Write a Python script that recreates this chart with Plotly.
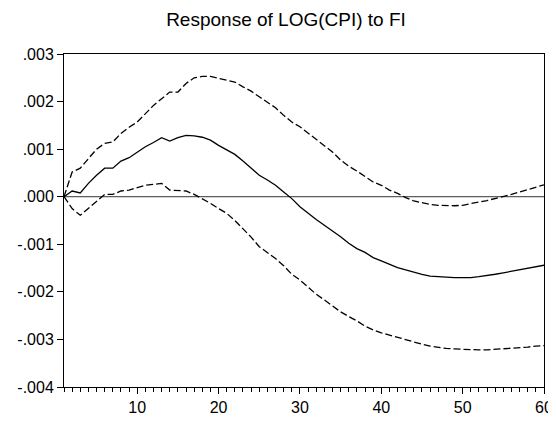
import plotly.graph_objects as go

periods = list(range(1, 61))

response = [0.0, 0.00012, 0.00008, 0.00028, 0.00045, 0.0006, 0.0006, 0.00075, 0.00082, 0.00093,
            0.00105, 0.00114, 0.00124, 0.00117, 0.00124, 0.00129, 0.00128, 0.00125, 0.00119, 0.00108,
            0.00098, 0.00089, 0.00075, 0.00059, 0.00045, 0.00035, 0.00024, 0.0001, -0.00004, -0.00021,
            -0.00035, -0.00048, -0.0006, -0.00072, -0.00084, -0.00098, -0.00109, -0.00117, -0.00128, -0.00135,
            -0.00142, -0.00149, -0.00154, -0.00159, -0.00163, -0.00167, -0.00168, -0.0017, -0.0017, -0.0017,
            -0.0017, -0.00168, -0.00166, -0.00163, -0.0016, -0.00157, -0.00154, -0.0015, -0.00147, -0.00144]

upper = [0.0, 0.00052, 0.0006, 0.0008, 0.001, 0.00112, 0.00115, 0.00133, 0.00146, 0.00157,
         0.00175, 0.00192, 0.00206, 0.0022, 0.0022, 0.00238, 0.0025, 0.00253, 0.00253, 0.00249,
         0.00244, 0.00241, 0.00231, 0.00222, 0.0021, 0.00198, 0.00187, 0.00171, 0.00157, 0.00147,
         0.00134, 0.00121, 0.00108, 0.00094, 0.00077, 0.00064, 0.00054, 0.00042, 0.00031, 0.00024,
         0.00014, 0.00007, -0.00002, -0.00009, -0.00013, -0.00016, -0.00018, -0.00019, -0.00019, -0.00018,
         -0.00014, -0.00011, -0.00008, -0.00004, 0.00001, 0.00005, 0.0001, 0.00015, 0.0002, 0.00025]

lower = [0.0, -0.00025, -0.00039, -0.00025, -0.00011, 0.00005, 0.00005, 0.00012, 0.00014, 0.00019,
         0.00024, 0.00026, 0.00028, 0.00014, 0.00013, 0.00012, 0.00005, -0.00004, -0.00014, -0.00025,
         -0.00035, -0.0005, -0.00067, -0.00085, -0.00105, -0.00117, -0.0013, -0.00145, -0.00163, -0.00175,
         -0.00191, -0.00205, -0.00217, -0.0023, -0.00242, -0.00252, -0.00261, -0.00272, -0.0028, -0.00286,
         -0.00291, -0.00296, -0.00301, -0.00306, -0.0031, -0.00314, -0.00317, -0.00319, -0.0032, -0.00321,
         -0.00322, -0.00322, -0.00322, -0.00321, -0.0032, -0.00319, -0.00317, -0.00316, -0.00314, -0.00313]

y_tickvals = [0.003, 0.002, 0.001, 0.0, -0.001, -0.002, -0.003, -0.004]
y_ticktext = [".003", ".002", ".001", ".000", "-.001", "-.002", "-.003", "-.004"]
x_tickvals = [10, 20, 30, 40, 50, 60]
x_ticktext = ["10", "20", "30", "40", "50", "60"]

title_text = "Response of LOG(CPI) to FI"

# The page body has an 8px default margin, so the figure is sized to fill the rest.
W, H = 548, 414

fig = go.Figure()
fig.add_trace(go.Scatter(x=periods, y=upper, mode="lines",
                         line=dict(color="black", width=1.3, dash="7px,3px"), showlegend=False))
fig.add_trace(go.Scatter(x=periods, y=lower, mode="lines",
                         line=dict(color="black", width=1.3, dash="7px,3px"), showlegend=False))
fig.add_trace(go.Scatter(x=periods, y=response, mode="lines",
                         line=dict(color="black", width=1.3), showlegend=False))

fig.add_hline(y=0, line=dict(color="black", width=0.8))

fig.update_layout(
    template="none",
    width=W, height=H,
    margin=dict(l=56, r=12, t=46, b=35),
    paper_bgcolor="white", plot_bgcolor="white",
    font=dict(family="Liberation Sans, Arial, sans-serif", size=16, color="black"),
    title=dict(text=title_text, x=278 / W, xanchor="center", y=1 - 11 / H,
               yanchor="middle", font=dict(size=19)),
)
fig.update_xaxes(range=[1, 60], tickvals=x_tickvals, ticktext=x_ticktext, automargin=False,
                 ticks="outside", ticklen=6, tickcolor="black", tickwidth=1,
                 minor=dict(dtick=1, tick0=0, ticks="outside", ticklen=4, tickcolor="black", tickwidth=1,
                            showgrid=False),
                 showgrid=False, zeroline=False,
                 showline=True, linecolor="black", linewidth=1, mirror=True)
fig.update_yaxes(range=[-0.004, 0.003], tickvals=y_tickvals, ticktext=y_ticktext, automargin=False,
                 ticks="outside", ticklen=6, tickcolor="black", tickwidth=1,
                 showgrid=False, zeroline=False,
                 showline=True, linecolor="black", linewidth=1, mirror=True)

fig.write_html("out.html")
